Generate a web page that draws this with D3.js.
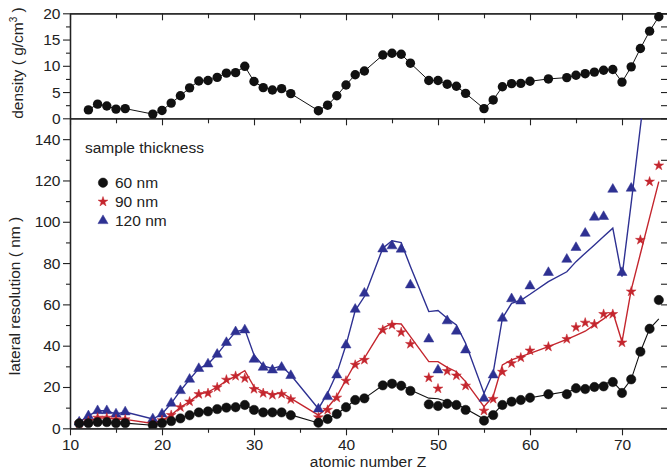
<!DOCTYPE html>
<html>
<head>
<meta charset="utf-8">
<script src="https://cdn.jsdelivr.net/npm/d3@7"></script>
<style>
    body { margin: 0; background: #fff; }
    svg { display: block; font-family: "Liberation Sans", Arial, sans-serif; }
    .axis path, .axis line { stroke: #222; }
    .axis path { stroke-width: 1.3; }
    .axis line { stroke-width: 1.1; }
    .axis text { font-size: 15.5px; fill: #222; font-family: "Liberation Sans", Arial, sans-serif; }
</style>
</head>
<body>
<script>
// Density panel (top)
const zDensity = [12, 13, 14, 15, 16, 19, 20, 21, 22, 23, 24, 25, 26, 27, 28, 29, 30, 31, 32, 33, 34,
    37, 38, 39, 40, 41, 42, 44, 45, 46, 47, 49, 50, 51, 52, 53, 55, 56, 57, 58, 59, 60, 62,
    64, 65, 66, 67, 68, 69, 70, 71, 72, 73, 74];
const density = [1.6, 2.7, 2.35, 1.75, 1.85, 0.8, 1.5, 2.9, 4.3, 5.8, 7.1, 7.2, 7.8, 8.6, 8.7, 9.9, 7.0, 5.85, 5.4, 5.65, 4.7,
    1.45, 2.5, 4.3, 6.35, 8.3, 9.0, 12.05, 12.4, 12.2, 10.5, 7.2, 7.2, 6.5, 6.1, 4.75, 1.85, 3.5, 6.0, 6.6, 6.65, 7.05, 7.5,
    7.75, 8.2, 8.5, 8.8, 9.15, 9.3, 6.9, 9.8, 13.3, 16.6, 19.35];

// Lateral resolution panel (bottom)
const zRes = [11, 12, 13, 14, 15, 16, 19, 20, 21, 22, 23, 24, 25, 26, 27, 28, 29, 30, 31, 32, 33, 34,
    37, 38, 39, 40, 41, 42, 44, 45, 46, 47, 49, 50, 51, 52, 53, 55, 56, 57, 58, 59, 60, 62,
    64, 65, 66, 67, 68, 69, 70, 71, 72, 73, 74];
// measured points
const res60 = [2.4, 2.5, 3.0, 3.0, 2.5, 2.5, 1.5, 2.5, 3.5, 4.8, 6.3, 7.7, 8.2, 9.3, 10.0, 10.2, 11.3, 8.9, 7.7, 7.7, 7.7, 6.3,
    2.7, 4.5, 6.9, 10.2, 13.7, 14.5, 20.8, 21.6, 20.6, 18.1, 11.6, 10.8, 11.9, 11.3, 8.9, 3.7, 6.4, 11.3, 12.9, 13.7, 14.8, 16.5,
    16.5, 19.4, 19.0, 20.0, 20.3, 22.4, 17.1, 23.7, 37.1, 48.2, 62.1];
const res90 = [2.3, 3.5, 5.1, 5.1, 4.3, 4.3, 2.3, 3.9, 6.4, 10.2, 12.9, 16.5, 17.0, 19.8, 23.5, 25.3, 24.2, 19.0, 17.0, 16.1, 16.6, 14.0,
    5.3, 8.9, 14.8, 23.0, 30.7, 33.1, 47.6, 50.0, 46.5, 40.8, 24.5, 19.2, 27.7, 25.5, 20.6, 8.5, 14.2, 27.3, 31.5, 34.2, 37.6, 39.5,
    43.2, 48.9, 51.1, 50.4, 55.3, 55.3, 41.5, 66.2, 91.2, 119.4, 127.2];
const res120 = [3.0, 6.0, 8.5, 8.5, 6.9, 7.9, 4.5, 6.9, 12.1, 18.2, 23.7, 28.9, 31.1, 35.8, 41.5, 46.7, 47.6, 33.4, 29.5, 28.2, 29.5, 25.5,
    9.3, 15.3, 25.8, 40.3, 57.6, 65.4, 86.8, 88.3, 86.7, 69.4, 43.2, 28.2, 52.0, 47.0, 37.9, 14.5, 25.8, 53.3, 62.7, 61.6, 68.9, 75.4,
    81.8, 87.5, 94.4, 102.2, 102.5, 115.7, 75.4, 116.2, null, null, null];
// calculated curves
const fit60 = [2.4, 2.5, 3.0, 3.0, 2.5, 2.5, 1.5, 2.5, 3.5, 4.8, 6.3, 7.7, 8.2, 9.3, 10.0, 10.4, 11.5, 9.0, 7.8, 7.7, 7.8, 6.5,
    2.6, 4.5, 6.9, 10.2, 13.7, 14.5, 20.8, 21.8, 21.0, 18.6, 14.6, 14.3, 13.0, 11.8, 9.5, 4.5, 6.8, 11.5, 12.6, 13.6, 14.8, 16.3,
    17.8, 18.6, 19.5, 20.5, 21.5, 22.6, 17.8, 23.7, 37.1, 48.2, 53.0];
const fit90 = [2.3, 3.5, 5.0, 5.0, 4.3, 4.3, 2.3, 3.9, 6.4, 10.2, 12.9, 16.5, 17.5, 20.0, 23.0, 25.3, 27.9, 20.1, 17.7, 16.4, 17.2, 14.5,
    6.4, 10.0, 15.5, 23.5, 31.5, 34.0, 48.5, 50.8, 50.5, 44.4, 32.3, 32.3, 29.5, 27.4, 22.6, 10.5, 15.5, 30.7, 33.1, 34.7, 36.3, 39.5,
    43.1, 45.0, 47.0, 50.1, 53.0, 56.3, 41.9, 67.0, 84.5, 102.0, 119.4];
const fit120 = [3.0, 6.0, 8.5, 8.5, 6.9, 7.9, 4.5, 6.9, 12.1, 18.2, 23.7, 28.9, 31.1, 35.8, 41.5, 46.7, 47.9, 35.5, 30.2, 29.0, 30.2, 25.8,
    9.5, 17.0, 26.6, 40.3, 57.0, 63.8, 87.2, 90.8, 89.9, 78.3, 56.5, 57.0, 53.3, 50.0, 41.2, 17.0, 27.0, 53.3, 60.5, 62.0, 64.9, 71.0,
    75.8, 80.7, 84.8, 88.8, 92.9, 96.9, 73.4, 109, 146, 182, null];

const seriesNames = ["60 nm", "90 nm", "120 nm"];

// ticks
const xTicks = [10, 20, 30, 40, 50, 60, 70];
const xMinor = [15, 25, 35, 45, 55, 65, 75];
const denTicks = [0, 5, 10, 15, 20];
const denMinor = [2.5, 7.5, 12.5, 17.5];
const resTicks = [0, 20, 40, 60, 80, 100, 120, 140];
const resMinor = [10, 30, 50, 70, 90, 110, 130];

const blue = "#2e3192", red = "#c4262e";

const svg = d3.select("body").append("svg")
    .attr("width", 667)
    .attr("height", 472);

const x = d3.scaleLinear().domain([10, 75]).range([70, 668]);
const yDen = d3.scaleLinear().domain([0, 20]).range([118.3, 13.3]);
const yRes = d3.scaleLinear().domain([0, 150]).range([428.3, 118.5]);

svg.append("clipPath").attr("id", "clipRes")
    .append("rect")
    .attr("x", 70).attr("y", yRes(150))
    .attr("width", 598).attr("height", yRes(0) - yRes(150));

function addAxis(axis, tx, ty) {
    return svg.append("g").attr("class", "axis")
        .attr("transform", `translate(${tx},${ty})`)
        .call(axis);
}

// ---- bottom panel axes
addAxis(d3.axisBottom(x).tickValues(xTicks).tickSize(7).tickPadding(4).tickSizeOuter(0), 0, yRes(0));
addAxis(d3.axisBottom(x).tickValues(xMinor).tickSize(4.5).tickFormat("").tickSizeOuter(0), 0, yRes(0));
addAxis(d3.axisLeft(yRes).tickValues(resTicks).tickSize(7).tickPadding(2.5).tickSizeOuter(0), 70, 0);
addAxis(d3.axisLeft(yRes).tickValues(resMinor).tickSize(4).tickFormat("").tickSizeOuter(0), 70, 0);
addAxis(d3.axisLeft(yRes).tickValues(resTicks.concat(resMinor)).tickSize(7).tickFormat("").tickSizeOuter(0), 668, 0);

// ---- top panel axes
addAxis(d3.axisLeft(yDen).tickValues(denTicks).tickSize(7).tickPadding(2.5).tickSizeOuter(0), 70, 0);
addAxis(d3.axisLeft(yDen).tickValues(denMinor).tickSize(4).tickFormat("").tickSizeOuter(0), 70, 0);
addAxis(d3.axisLeft(yDen).tickValues(denTicks.concat(denMinor)).tickSize(7).tickFormat("").tickSizeOuter(0), 668, 0);
addAxis(d3.axisBottom(x).tickValues(xTicks).tickSize(7).tickFormat("").tickSizeOuter(0), 0, yDen(20));
addAxis(d3.axisBottom(x).tickValues(xMinor).tickSize(5).tickFormat("").tickSizeOuter(0), 0, yDen(20));
addAxis(d3.axisBottom(x).tickValues(xTicks).tickSize(7).tickFormat("").tickSizeOuter(0), 0, yDen(0));
addAxis(d3.axisBottom(x).tickValues(xMinor).tickSize(5).tickFormat("").tickSizeOuter(0), 0, yDen(0));

// ---- density
const denData = zDensity.map((z, i) => [z, density[i]]);
svg.append("path")
    .datum(denData)
    .attr("fill", "none")
    .attr("stroke", "#111")
    .attr("stroke-width", 1)
    .attr("d", d3.line().x(d => x(d[0])).y(d => yDen(d[1])));

svg.selectAll(".den")
    .data(denData)
    .enter()
    .append("circle")
    .attr("class", "den")
    .attr("cx", d => x(d[0]))
    .attr("cy", d => yDen(d[1]))
    .attr("r", 4.7)
    .attr("fill", "#111");

// ---- resolution
const plot = svg.append("g").attr("clip-path", "url(#clipRes)");
const resLine = d3.line()
    .defined(d => d[1] != null)
    .x(d => x(d[0]))
    .y(d => yRes(d[1]));

const fits = [
    { vals: fit60, color: "#111", w: 1.1 },
    { vals: fit90, color: red, w: 1.4 },
    { vals: fit120, color: blue, w: 1.4 }
];
fits.forEach(f => {
    plot.append("path")
        .datum(zRes.map((z, i) => [z, f.vals[i]]))
        .attr("fill", "none")
        .attr("stroke", f.color)
        .attr("stroke-width", f.w)
        .attr("d", resLine);
});

const markers = [
    { vals: res120, color: blue, sym: d3.symbol().type(d3.symbolTriangle).size(44) },
    { vals: res90, color: red, sym: d3.symbol().type(d3.symbolStar).size(30) },
    { vals: res60, color: "#111", sym: d3.symbol().type(d3.symbolCircle).size(69) }
];
markers.forEach((m, k) => {
    plot.selectAll(".m" + k)
        .data(zRes.map((z, i) => [z, m.vals[i]]).filter(d => d[1] != null))
        .enter()
        .append("path")
        .attr("class", "m" + k)
        .attr("transform", d => `translate(${x(d[0])},${yRes(d[1])})`)
        .attr("d", m.sym)
        .attr("fill", m.color)
        .attr("stroke", m.color)
        .attr("stroke-width", 0.5);
});

// ---- legend
svg.append("text")
    .attr("x", 85).attr("y", 153)
    .attr("font-size", "15.5px").attr("fill", "#222")
    .text("sample thickness");

const legendSyms = [markers[2], markers[1], markers[0]];
seriesNames.forEach((name, i) => {
    const cy = 182.7 + i * 19;
    svg.append("path")
        .attr("transform", `translate(103,${cy})`)
        .attr("d", legendSyms[i].sym)
        .attr("fill", legendSyms[i].color)
        .attr("stroke", legendSyms[i].color)
        .attr("stroke-width", 0.5);
    svg.append("text")
        .attr("x", 115).attr("y", cy + 5.3)
        .attr("font-size", "15.5px").attr("fill", "#222")
        .text(name);
});

// ---- axis titles
svg.append("text")
    .attr("x", 368).attr("y", 467)
    .attr("text-anchor", "middle")
    .attr("font-size", "15.5px").attr("fill", "#222")
    .text("atomic number Z");

svg.append("text")
    .attr("transform", "translate(20,296) rotate(-90)")
    .attr("text-anchor", "middle")
    .attr("font-size", "15.5px").attr("fill", "#222")
    .text("lateral resolution ( nm )");

const denTitle = svg.append("text")
    .attr("transform", "translate(23,63) rotate(-90)")
    .attr("text-anchor", "middle")
    .attr("font-size", "15.5px").attr("fill", "#222");
denTitle.append("tspan").text("density ( g/cm");
denTitle.append("tspan").attr("dy", -6).attr("font-size", "10px").text("3");
denTitle.append("tspan").attr("dy", 6).text(" )");
</script>
</body>
</html>
